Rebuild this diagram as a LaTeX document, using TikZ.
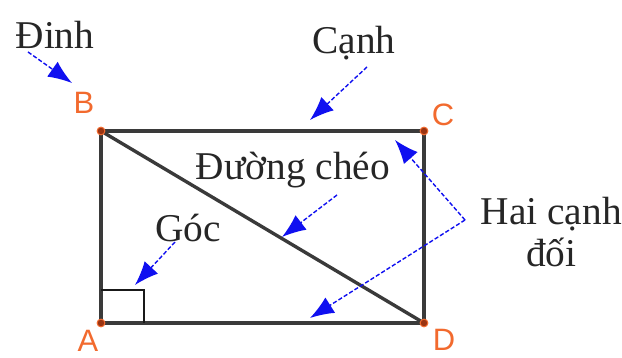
\documentclass[tikz,border=0pt]{standalone}
\usepackage{fontspec}
\setmainfont{Liberation Serif}
\setsansfont{Liberation Sans}
\usepackage{xcolor}
\usetikzlibrary{arrows.meta}
\definecolor{edge}{HTML}{3A3A3A}
\definecolor{vertexlbl}{HTML}{F26A2E}
\definecolor{vertexdot}{HTML}{9A3412}
\definecolor{pointer}{HTML}{1010F0}
\tikzset{
  side/.style={draw=edge, line width=2.4pt, line join=round},
  dot/.style={circle, draw=vertexlbl, fill=vertexdot, line width=0.7pt,
    minimum size=5.5pt, inner sep=0pt},
  vlabel/.style={font=\sffamily\fontsize{22}{22}\selectfont, text=vertexlbl, inner sep=0pt},
  term/.style={font=\fontsize{28}{30.5}\selectfont, text=black!85, align=center, inner sep=0pt},
  pointto/.style={draw=pointer, dash pattern=on 3pt off 1.5pt, line width=1pt,
    -{Latex[length=17pt, width=13pt]}}
}

\begin{document}
\begin{tikzpicture}
  \useasboundingbox (0,0) rectangle (15.55,8.95);

  % Vertices
  \coordinate (A) at (2.525, 0.875);
  \coordinate (B) at (2.525, 5.675);
  \coordinate (C) at (10.6, 5.675);
  \coordinate (D) at (10.6, 0.875);

  % Rectangle and diagonal
  \draw[side] (A) -- (B) -- (C) -- (D) -- cycle;
  \draw[side] (B) -- (D);
  \draw[line width=2pt, draw=black!90] ([yshift=0.825cm]A) -- ++(1.075,0) -- ++(0,-0.825);

  % Vertex dots
  \foreach \v in {A,B,C,D}
    \node[dot] (dot\v) at (\v) {};

  % Vertex labels
  \node[vlabel] (lblB) at (2.1, 6.375) {B};
  \node[vlabel] (lblC) at (11.075, 6.075) {C};
  \node[vlabel] (lblD) at (11.1, 0.45) {D};
  \node[vlabel] (lblA) at (2.2, 0.42) {A};

  % Terms
  \node[term] (dinh) at (1.375, 8.075) {Đinh};
  \node[term] (canh) at (8.85, 7.875) {Cạnh};
  \node[term] (cheo) at (7.325, 4.7) {Đường chéo};
  \node[term] (goc) at (4.7, 3.25) {Góc};
  \node[term] (doi) at (13.78, 3.15) {Hai cạnh\\đối};

  % Pointer ends
  \coordinate (dinhT) at (0.7, 7.65);   \coordinate (dinhH) at (1.8, 6.875);
  \coordinate (canhT) at (9.175, 7.275); \coordinate (canhH) at (7.75, 5.95);
  \coordinate (cheoT) at (8.425, 4.075); \coordinate (cheoH) at (7.05, 3.025);
  \coordinate (gocT) at (4.375, 2.9);   \coordinate (gocH) at (3.375, 1.825);
  \coordinate (doiV) at (11.625, 3.45);
  \coordinate (doiH1) at (9.875, 5.45); \coordinate (doiH2) at (7.75, 1.0);

  % Pointers
  \draw[pointto] (dinhT) -- (dinhH);
  \draw[pointto] (canhT) -- (canhH);
  \draw[pointto] (cheoT) -- (cheoH);
  \draw[pointto] (gocT) -- (gocH);
  \draw[pointto] (doiV) -- (doiH1);
  \draw[pointto] (doiV) -- (doiH2);
\end{tikzpicture}
\end{document}
